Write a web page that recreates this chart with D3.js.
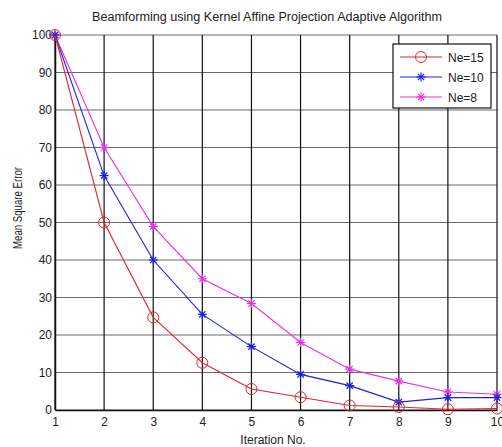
<!DOCTYPE html>
<html>
<head>
<meta charset="utf-8">
<script src="https://cdn.jsdelivr.net/npm/d3@7"></script>
<style>
  body { margin: 0; background: #fff; }
  svg text { font-family: "Liberation Sans", Arial, sans-serif; font-size: 12px; fill: #222; }
</style>
</head>
<body>
<div id="chart"></div>
<script>
// iterations on the x axis
const iterations = [1, 2, 3, 4, 5, 6, 7, 8, 9, 10];
// mean square error per number of elements
const ne15 = [100, 50, 24.7, 12.6, 5.6, 3.4, 1.2, 0.8, 0.2, 0.4];
const ne10 = [100, 62.5, 40, 25.5, 16.9, 9.5, 6.5, 2.1, 3.3, 3.3];
const ne8 = [100, 70, 48.9, 35, 28.4, 18, 10.9, 7.7, 4.8, 4.2];
const yTicks = [0, 10, 20, 30, 40, 50, 60, 70, 80, 90, 100];
const seriesNames = ["Ne=15", "Ne=10", "Ne=8"];

(function () {
    const width = 502, height = 447;
    const margin = { left: 55, right: 4, top: 35, bottom: 37 };

    const svg = d3.select("#chart").append("svg")
        .attr("width", width)
        .attr("height", height);

    const x = d3.scaleLinear().domain([1, 10]).range([margin.left, width - margin.right - 1]);
    const y = d3.scaleLinear().domain([0, 100]).range([height - margin.bottom, margin.top]);

    // grid: horizontal grey, vertical black
    svg.append("g").selectAll("line")
        .data(yTicks)
        .join("line")
        .attr("x1", x(1)).attr("x2", x(10))
        .attr("y1", d => y(d)).attr("y2", d => y(d))
        .attr("stroke", "#6a6a6a")
        .attr("stroke-width", 1.2);

    svg.append("g").selectAll("line")
        .data(iterations)
        .join("line")
        .attr("x1", d => x(d)).attr("x2", d => x(d))
        .attr("y1", y(0)).attr("y2", y(100))
        .attr("stroke", "#111")
        .attr("stroke-width", 1.2);

    // axes
    const xAxis = svg.append("g")
        .attr("transform", `translate(0,${y(0)})`)
        .call(d3.axisBottom(x).tickValues(iterations).tickSize(0).tickPadding(7));
    xAxis.select(".domain").attr("stroke", "#111").attr("stroke-width", 1.5);

    const yAxis = svg.append("g")
        .attr("transform", `translate(${x(1)},0)`)
        .call(d3.axisLeft(y).tickValues(yTicks).tickSize(0).tickPadding(3));
    yAxis.select(".domain").attr("stroke", "#111").attr("stroke-width", 1.5);

    svg.selectAll(".tick text")
        .attr("font-family", "Liberation Sans, Arial, sans-serif")
        .attr("font-size", 12)
        .attr("fill", "#222");

    // series
    const series = [
        { name: seriesNames[0], values: ne15, color: "#e0262c", marker: "circle" },
        { name: seriesNames[1], values: ne10, color: "#1f1fe0", marker: "star" },
        { name: seriesNames[2], values: ne8, color: "#e632e6", marker: "star" }
    ];

    const line = d3.line()
        .x((d, i) => x(iterations[i]))
        .y(d => y(d));

    function drawMarker(g, type, cx, cy, color) {
        if (type === "circle") {
            g.append("circle")
                .attr("cx", cx).attr("cy", cy).attr("r", 5.5)
                .attr("fill", "none").attr("stroke", color).attr("stroke-width", 1);
        } else {
            const s = 4.5;
            [[-s, 0, s, 0], [0, -s, 0, s], [-s * 0.7, -s * 0.7, s * 0.7, s * 0.7], [-s * 0.7, s * 0.7, s * 0.7, -s * 0.7]]
                .forEach(([a, b, c, d]) => {
                    g.append("line")
                        .attr("x1", cx + a).attr("y1", cy + b)
                        .attr("x2", cx + c).attr("y2", cy + d)
                        .attr("stroke", color).attr("stroke-width", 1.2);
                });
        }
    }

    // draw in reverse so red is on top
    series.slice().reverse().forEach(s => {
        const g = svg.append("g");
        g.append("path")
            .datum(s.values)
            .attr("d", line)
            .attr("fill", "none")
            .attr("stroke", s.color)
            .attr("stroke-width", 1.1);
        s.values.forEach((v, i) => drawMarker(g, s.marker, x(iterations[i]), y(v), s.color));
    });

    // legend
    const lg = svg.append("g").attr("transform", "translate(393,44)");
    lg.append("rect")
        .attr("width", 98).attr("height", 64)
        .attr("fill", "#fff").attr("stroke", "#111").attr("stroke-width", 1.2);
    series.forEach((s, i) => {
        const yy = 13 + i * 20;
        lg.append("line")
            .attr("x1", 7).attr("x2", 49).attr("y1", yy).attr("y2", yy)
            .attr("stroke", s.color).attr("stroke-width", 1.1);
        drawMarker(lg, s.marker, 28, yy, s.color);
        lg.append("text")
            .attr("x", 55).attr("y", yy + 4.5)
            .text(s.name);
    });

    // title and labels
    svg.append("text")
        .attr("x", 267).attr("y", 21)
        .attr("text-anchor", "middle")
        .attr("textLength", 350)
        .attr("lengthAdjust", "spacingAndGlyphs")
        .text("Beamforming using Kernel Affine Projection Adaptive Algorithm");

    svg.append("text")
        .attr("x", 273).attr("y", 444)
        .attr("text-anchor", "middle")
        .text("Iteration No.");

    svg.append("text")
        .attr("transform", "translate(22,208) rotate(-90)")
        .attr("text-anchor", "middle")
        .attr("font-size", 11)
        .attr("textLength", 82)
        .attr("lengthAdjust", "spacingAndGlyphs")
        .text("Mean Square Error");
})();
</script>
</body>
</html>
